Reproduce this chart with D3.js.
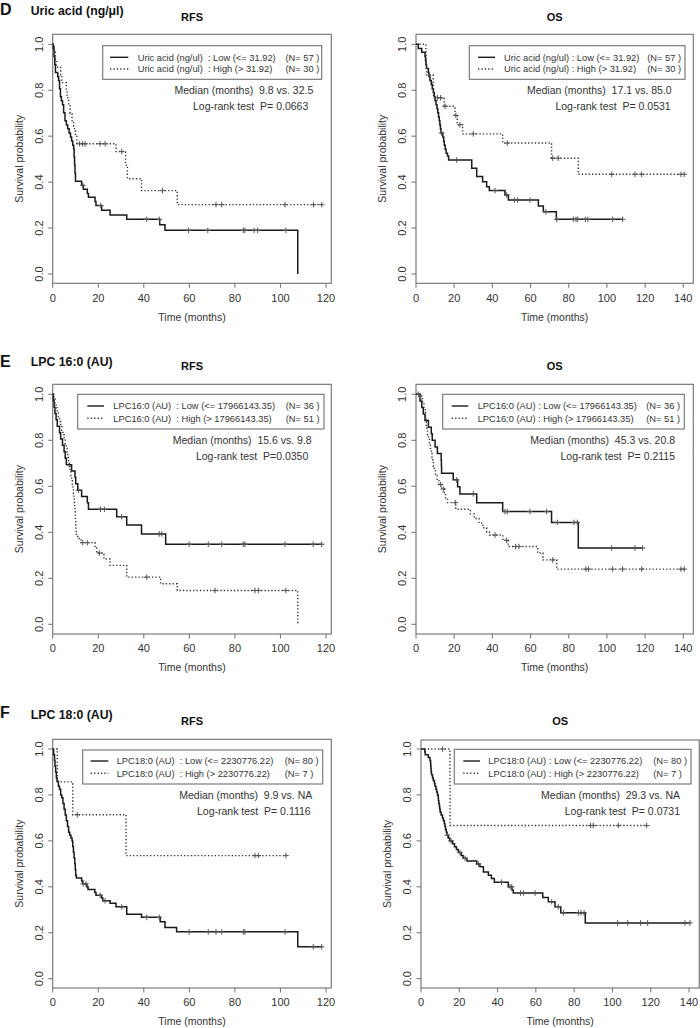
<!DOCTYPE html>
<html><head><meta charset="utf-8">
<script src="https://cdn.jsdelivr.net/npm/d3@7"></script>
<style>
body{margin:0;background:#fff}
svg text{font-family:'Liberation Sans',Arial,sans-serif;white-space:pre}
</style>
</head><body><svg id="c" width="700" height="1028"></svg>
<script>
// ---------------- DATA ----------------
const rowLetters = ["D","E","F"];
const rowTitles = ["Uric acid (ng/\u03bcl)","LPC 16:0 (AU)","LPC 18:0 (AU)"];
const colTitles = ["RFS","OS"];
const xTicksRFS = [0,20,40,60,80,100,120];
const xTicksOS = [0,20,40,60,80,100,120,140];
const yTicks = [0,0.2,0.4,0.6,0.8,1.0];
const xLabel = "Time (months)";
const yLabel = "Survival probability";

// Kaplan-Meier steps: [time, survival after step]
const dRfsLow = [[0.3,0.982],[0.6,0.947],[0.9,0.912],[1.2,0.877],[2.2,0.860],[2.6,0.842],[3.0,0.807],[3.4,0.772],[3.8,0.754],[4.3,0.737],[4.8,0.702],[5.4,0.667],[6.0,0.649],[6.6,0.632],[7.2,0.614],[7.8,0.596],[8.3,0.579],[8.8,0.561],[9.2,0.544],[9.4,0.509],[9.6,0.474],[9.8,0.439],[10.0,0.404],[12.7,0.386],[13.5,0.369],[15.2,0.351],[15.7,0.334],[18.6,0.316],[19.0,0.298],[21.5,0.277],[25.2,0.257],[32.5,0.238],[47.0,0.214],[49.3,0.190],[107.6,0]];
const dRfsLowCens = [13.2,21.1,41.3,46.8,59.6,68.1,83.7,84.4,88.4,90.0,102.4];
const dRfsHigh = [[0.7,0.967],[1.2,0.933],[1.6,0.9],[3.5,0.867],[4.0,0.833],[6.0,0.8],[6.3,0.767],[7.0,0.733],[7.6,0.7],[8.5,0.667],[9.2,0.633],[10.0,0.6],[10.6,0.567],[27.8,0.533],[32.0,0.474],[32.8,0.415],[39.0,0.363],[54.7,0.302]];
const dRfsHighCens = [11.7,13.0,14.2,20.8,23.0,30.3,48.2,71.7,74.2,102.0,114.5,118.1];

const dOsLow = [[1.2,0.982],[3.0,0.965],[4.7,0.947],[5.0,0.93],[5.2,0.912],[5.5,0.895],[6.5,0.877],[6.8,0.86],[7.3,0.842],[8.0,0.825],[8.5,0.807],[9.1,0.789],[9.6,0.772],[10.0,0.754],[10.5,0.737],[11.0,0.719],[11.4,0.702],[11.8,0.684],[12.2,0.667],[12.5,0.649],[12.8,0.632],[13.1,0.614],[14.0,0.596],[14.5,0.578],[14.8,0.561],[15.3,0.543],[15.8,0.526],[16.5,0.514],[17.1,0.496],[29.2,0.46],[31.8,0.424],[34.9,0.402],[37.0,0.38],[38.4,0.363],[46.6,0.344],[48.4,0.322],[64.1,0.296],[66.7,0.271],[73.5,0.238]];
const dOsLowCens = [13.4,21.3,41.4,47.5,51.5,53.2,59.7,68.0,73.7,82.4,83.8,84.7,88.7,90.0,103.0,108.2];
const dOsHigh = [[5.2,0.967],[5.3,0.933],[5.4,0.9],[5.5,0.867],[9.0,0.833],[9.1,0.8],[9.2,0.767],[14.7,0.73],[20.4,0.69],[21.6,0.65],[24.4,0.61],[45.4,0.57],[71.0,0.504],[85.0,0.434]];
const dOsHighCens = [11.2,12.9,15.2,20.9,23.0,30.0,47.8,71.6,74.5,102.5,114.7,118.2,138.8,140.5];

const eRfsLow = [[0.3,0.972],[0.6,0.944],[1.0,0.917],[1.5,0.889],[2.0,0.861],[3.0,0.833],[3.5,0.806],[4.3,0.778],[5.0,0.75],[5.5,0.722],[6.0,0.694],[8.3,0.667],[9.8,0.639],[10.1,0.611],[11.0,0.583],[12.7,0.556],[15.2,0.528],[15.7,0.5],[28.1,0.468],[32.5,0.432],[39.0,0.393],[49.6,0.348]];
const eRfsLowCens = [11.3,21.0,22.7,30.3,46.8,47.9,59.9,68.3,74.2,83.7,84.4,102.0,114.4,118.1];
const eRfsHigh = [[0.5,0.98],[1.0,0.961],[1.5,0.941],[2.0,0.922],[2.5,0.902],[3.0,0.882],[3.5,0.863],[4.0,0.843],[4.5,0.824],[5.0,0.804],[5.5,0.784],[6.0,0.765],[6.3,0.745],[6.6,0.725],[7.0,0.706],[7.3,0.686],[7.6,0.667],[8.0,0.647],[8.3,0.627],[8.6,0.608],[8.9,0.588],[9.1,0.569],[9.3,0.549],[9.5,0.529],[9.6,0.51],[9.8,0.49],[9.9,0.471],[10.0,0.451],[10.1,0.431],[10.2,0.412],[10.3,0.392],[11.0,0.373],[12.5,0.355],[18.6,0.333],[19.3,0.31],[22.5,0.284],[25.2,0.256],[32.5,0.205],[47.4,0.176],[54.7,0.147],[107.6,0]];
const eRfsHighCens = [13.2,15.2,20.5,41.3,71.3,88.8,90.3,102.4];

const eOsLow = [[2.1,0.971],[3.0,0.943],[3.8,0.914],[4.7,0.886],[6.5,0.857],[8.0,0.829],[8.5,0.8],[10.0,0.771],[11.2,0.743],[13.2,0.714],[13.3,0.686],[13.4,0.657],[19.5,0.628],[21.8,0.598],[23.0,0.567],[31.8,0.529],[45.4,0.49],[71.0,0.443],[85.0,0.332]];
const eOsLowCens = [1.2,21.3,30.0,46.6,47.8,59.7,68.4,74.0,82.7,84.5,102.5,114.7,118.7];
const eOsHigh = [[3.0,0.98],[3.5,0.961],[4.2,0.941],[4.8,0.922],[5.0,0.902],[5.2,0.882],[5.4,0.863],[5.7,0.843],[6.0,0.824],[6.5,0.804],[7.0,0.784],[7.5,0.765],[8.0,0.745],[8.4,0.725],[8.8,0.706],[9.1,0.686],[9.6,0.667],[10.2,0.647],[11.0,0.627],[12.0,0.608],[13.5,0.588],[14.8,0.569],[15.5,0.549],[16.5,0.529],[20.8,0.5],[28.5,0.48],[30.5,0.46],[33.0,0.44],[35.0,0.42],[37.0,0.40],[38.5,0.388],[45.5,0.365],[48.3,0.338],[63.7,0.31],[66.5,0.28],[73.7,0.24]];
const eOsHighCens = [12.9,14.3,20.6,41.4,47.5,52.2,53.9,71.6,89.0,90.4,103.0,108.2,118.2,138.8,140.5];

const fRfsLow = [[0.4,0.975],[0.8,0.95],[1.0,0.925],[1.3,0.9],[1.6,0.875],[1.9,0.86],[2.5,0.838],[3.0,0.825],[3.5,0.8],[4.0,0.788],[4.5,0.763],[5.0,0.738],[5.5,0.713],[6.0,0.688],[6.5,0.663],[7.0,0.638],[7.5,0.625],[8.0,0.613],[8.5,0.6],[8.8,0.575],[9.1,0.55],[9.4,0.525],[9.7,0.5],[9.9,0.475],[10.1,0.45],[10.4,0.438],[12.7,0.425],[13.2,0.413],[15.0,0.4],[15.5,0.388],[18.5,0.375],[19.0,0.363],[21.5,0.351],[22.0,0.339],[25.2,0.328],[27.8,0.313],[32.5,0.281],[39.0,0.267],[47.2,0.248],[49.3,0.223],[54.4,0.204],[107.6,0.139]];
const fRfsLowCens = [13.4,14.6,20.8,23.0,30.3,41.3,46.8,59.9,68.3,71.7,74.2,83.7,84.4,102.0,114.4,118.1];
const fRfsHigh = [[2.0,0.857],[8.8,0.714],[32.2,0.536]];
const fRfsHighCens = [10.8,88.8,90.3,102.4];

const fOsLow = [[2.0,0.988],[2.2,0.975],[3.8,0.963],[4.7,0.95],[5.0,0.938],[5.1,0.925],[5.2,0.913],[5.3,0.9],[5.5,0.888],[6.0,0.875],[6.4,0.863],[7.0,0.85],[7.3,0.838],[7.8,0.825],[8.2,0.813],[8.6,0.8],[9.0,0.788],[9.1,0.775],[9.3,0.763],[9.6,0.75],[9.8,0.738],[10.0,0.725],[10.5,0.713],[11.2,0.7],[11.7,0.688],[12.2,0.675],[12.5,0.663],[12.8,0.65],[13.2,0.638],[13.6,0.625],[14.3,0.613],[15.0,0.6],[16.5,0.587],[17.5,0.574],[18.5,0.562],[19.5,0.549],[21.0,0.536],[22.0,0.524],[24.0,0.512],[29.1,0.499],[30.8,0.487],[32.6,0.465],[35.2,0.45],[36.8,0.436],[38.3,0.42],[45.6,0.4],[47.5,0.386],[48.2,0.373],[63.6,0.354],[66.5,0.335],[70.0,0.313],[73.0,0.287],[85.8,0.243]];
const fOsLowCens = [13.8,15.7,20.4,23.0,30.0,42.1,46.5,47.4,52.0,53.5,59.6,68.3,71.7,74.4,82.2,83.6,85.2,102.7,108.0,114.7,118.4,137.9,140.5];
const fOsHigh = [[15.1,0.833],[15.2,0.667]];
const fOsHighCens = [11.3,88.6,90.0,103.1,117.9];

const legLow = ["Uric acid (ng/ul)  : Low (<= 31.92)","Uric acid (ng/ul) : Low (<= 31.92)","LPC16:0 (AU)  : Low (<= 17966143.35)","LPC16:0 (AU) : Low (<= 17966143.35)","LPC18:0 (AU)  : Low (<= 2230776.22)","LPC18:0 (AU) : Low (<= 2230776.22)"];
const legHigh = ["Uric acid (ng/ul)  : High (> 31.92)","Uric acid (ng/ul) : High (> 31.92)","LPC16:0 (AU)  : High (> 17966143.35)","LPC16:0 (AU) : High (> 17966143.35)","LPC18:0 (AU)  : High (> 2230776.22)","LPC18:0 (AU) : High (> 2230776.22)"];
const legNLow = ["(N= 57 )","(N= 57 )","(N= 36 )","(N= 36 )","(N= 80 )","(N= 80 )"];
const legNHigh = ["(N= 30 )","(N= 30 )","(N= 51 )","(N= 51 )","(N= 7 )","(N= 7 )"];
const medianTxt = ["Median (months)  9.8 vs. 32.5","Median (months)  17.1 vs. 85.0","Median (months)  15.6 vs. 9.8","Median (months)  45.3 vs. 20.8","Median (months)  9.9 vs. NA","Median (months)  29.3 vs. NA"];
const logrankTxt = ["Log-rank test  P= 0.0663","Log-rank test  P= 0.0531","Log-rank test  P=0.0350","Log-rank test  P= 0.2115","Log-rank test  P= 0.1116","Log-rank test  P= 0.0731"];

const lowSeries = [dRfsLow,dOsLow,eRfsLow,eOsLow,fRfsLow,fOsLow];
const lowCens = [dRfsLowCens,dOsLowCens,eRfsLowCens,eOsLowCens,fRfsLowCens,fOsLowCens];
const highSeries = [dRfsHigh,dOsHigh,eRfsHigh,eOsHigh,fRfsHigh,fOsHigh];
const highCens = [dRfsHighCens,dOsHighCens,eRfsHighCens,eOsHighCens,fRfsHighCens,fOsHighCens];

// ---------------- LAYOUT ----------------
const rowLayout = [{letterY:15,titleY:14.5},{letterY:366.7,titleY:366},{letterY:718.3,titleY:719}];
const panelLayout = [
 {box:[52.7,34.3,331.3,283.3], x0:52.7,x1:326,tmax:120, y0:274,y1:44.3, leg:[102.7,45.7,321.7,79.3], lineX:[110,128.3], textX:137.7, nEnd:319.3, rows:[57.3,69], medX:313.3, lrX:308.3, medY:90, lrY:106.7, titleY:20.7},
 {box:[416,34.3,693.3,283.3], x0:416,x1:683.3,tmax:140, y0:274,y1:44.3, leg:[469.3,45.7,685,79.3], lineX:[478,495], textX:504, nEnd:681, rows:[57.3,69], medX:671.7, lrX:670.7, medY:90, lrY:106.7, titleY:20.7},
 {box:[52.7,384.3,331.3,634], x0:52.7,x1:326,tmax:120, y0:624.3,y1:394.3, leg:[77.7,394.3,324,429], lineX:[87.3,104], textX:113.3, nEnd:319.5, rows:[406,418.3], medX:311.7, lrX:308.3, medY:440, lrY:456, titleY:370},
 {box:[416,384.3,693.3,634], x0:416,x1:683.3,tmax:140, y0:624.3,y1:394.3, leg:[442.7,394.3,684.3,429], lineX:[451.7,468.3], textX:477.7, nEnd:680, rows:[406,418.3], medX:675, lrX:675, medY:440, lrY:456, titleY:370},
 {box:[52.7,739.3,331.3,988], x0:52.7,x1:326,tmax:120, y0:978.7,y1:749, leg:[82.7,750,322.7,784], lineX:[90.7,108.3], textX:116.7, nEnd:318.5, rows:[761,773.3], medX:312.3, lrX:310.7, medY:795, lrY:811, titleY:725},
 {box:[421,740,699.3,988], x0:421,x1:689,tmax:140, y0:978.7,y1:749, leg:[454.3,749.3,691,784], lineX:[463.3,480], textX:488.3, nEnd:687, rows:[761,773.3], medX:680, lrX:680, medY:795, lrY:811, titleY:725}
];

const FS_LEG = 9.3, FS_MED = 10.5, FS_TICK = 11, FS_AX = 10.5;
const BOX = "#707070", TXT = "#333", CURVE = "#1a1a1a", CENS = "#555";

const svg = d3.select("#c");
svg.append("rect").attr("width",700).attr("height",1028).attr("fill","#fff");

// row headers
rowLetters.forEach((L,i)=>{
  svg.append("text").attr("x",0).attr("y",rowLayout[i].letterY).attr("font-size",16).attr("font-weight","bold").attr("fill","#111").text(L);
  svg.append("text").attr("x",30.7).attr("y",rowLayout[i].titleY).attr("font-size",12.3).attr("font-weight","bold").attr("fill","#111").text(rowTitles[i]);
});

function survAt(steps,t){
  let s=1;
  for(const [tt,ss] of steps){ if(tt<=t) s=ss; else break; }
  return s;
}

panelLayout.forEach((p,i)=>{
  const col = i%2;
  const g = svg.append("g");
  const x = d3.scaleLinear().domain([0,p.tmax]).range([p.x0,p.x1]);
  const y = d3.scaleLinear().domain([0,1]).range([p.y0,p.y1]);
  const [bl,bt,br,bb] = p.box;
  const cx = (bl+br)/2;

  g.append("text").attr("x",cx).attr("y",p.titleY).attr("text-anchor","middle").attr("font-size",11).attr("font-weight","bold").attr("fill","#111").text(colTitles[col]);

  g.append("rect").attr("x",bl).attr("y",bt).attr("width",br-bl).attr("height",bb-bt).attr("fill","none").attr("stroke",BOX).attr("stroke-width",1.1);

  const xt = col===0 ? xTicksRFS : xTicksOS;
  xt.forEach(t=>{
    g.append("line").attr("x1",x(t)).attr("x2",x(t)).attr("y1",bb).attr("y2",bb+4.5).attr("stroke",BOX).attr("stroke-width",1);
    g.append("text").attr("x",x(t)).attr("y",bb+18.2).attr("text-anchor","middle").attr("font-size",FS_TICK).attr("fill",TXT).text(t);
  });
  g.append("text").attr("x",cx).attr("y",bb+37.2).attr("text-anchor","middle").attr("font-size",FS_AX).attr("fill",TXT).text(xLabel);

  yTicks.forEach(v=>{
    g.append("line").attr("x1",bl-4.5).attr("x2",bl).attr("y1",y(v)).attr("y2",y(v)).attr("stroke",BOX).attr("stroke-width",1);
    g.append("text").attr("transform",`translate(${bl-13.8},${y(v)}) rotate(-90)`).attr("dy","0.35em").attr("text-anchor","middle").attr("font-size",FS_TICK).attr("fill",TXT).text(v.toFixed(1));
  });
  g.append("text").attr("transform",`translate(${bl-33.5},${(bt+bb)/2}) rotate(-90)`).attr("dy","0.35em").attr("text-anchor","middle").attr("font-size",FS_AX).attr("fill",TXT).text(yLabel);

  const line = d3.line().curve(d3.curveStepAfter).x(d=>x(d[0])).y(d=>y(d[1]));
  function drawCurve(steps,cens,dotted){
    const lastT = Math.max(steps[steps.length-1][0], d3.max(cens));
    const pts = [[0,1],...steps,[lastT,steps[steps.length-1][1]]];
    const path = g.append("path").attr("d",line(pts)).attr("fill","none").attr("stroke",CURVE).attr("stroke-width",dotted?1.4:1.5);
    if(dotted) path.attr("stroke-dasharray","1.3,2.1").attr("stroke","#333");
    cens.forEach(t=>{
      const px=x(t), py=y(survAt(steps,t));
      g.append("path").attr("d",`M${px-2.8},${py}H${px+2.8}M${px},${py-2.8}V${py+2.8}`).attr("stroke",CENS).attr("stroke-width",1);
    });
  }
  drawCurve(lowSeries[i],lowCens[i],false);
  drawCurve(highSeries[i],highCens[i],true);

  // legend
  const [ll,lt,lr,lb] = p.leg;
  g.append("rect").attr("x",ll).attr("y",lt).attr("width",lr-ll).attr("height",lb-lt).attr("fill","#fff").attr("stroke",BOX).attr("stroke-width",1.1);
  const rowsData = [[legLow[i],legNLow[i],false],[legHigh[i],legNHigh[i],true]];
  const nTexts = [];
  rowsData.forEach((r,k)=>{
    const ry = p.rows[k];
    const ln = g.append("line").attr("x1",p.lineX[0]).attr("x2",p.lineX[1]).attr("y1",ry).attr("y2",ry).attr("stroke",CURVE).attr("stroke-width",1.4);
    if(r[2]) ln.attr("stroke-dasharray","1.3,2.1").attr("stroke","#333");
    g.append("text").attr("x",p.textX).attr("y",ry).attr("dy","0.35em").attr("font-size",FS_LEG).attr("fill",TXT).text(r[0]);
    nTexts.push(g.append("text").attr("y",ry).attr("dy","0.35em").attr("font-size",FS_LEG).attr("fill",TXT).text(r[1]));
  });
  const wN = d3.max(nTexts, t=>t.node().getComputedTextLength());
  nTexts.forEach(t=>t.attr("x",p.nEnd - wN));
  g.append("text").attr("x",p.medX).attr("y",p.medY).attr("dy","0.35em").attr("text-anchor","end").attr("font-size",FS_MED).attr("fill",TXT).text(medianTxt[i]);
  g.append("text").attr("x",p.lrX).attr("y",p.lrY).attr("dy","0.35em").attr("text-anchor","end").attr("font-size",FS_MED).attr("fill",TXT).text(logrankTxt[i]);
});
</script></body></html>
